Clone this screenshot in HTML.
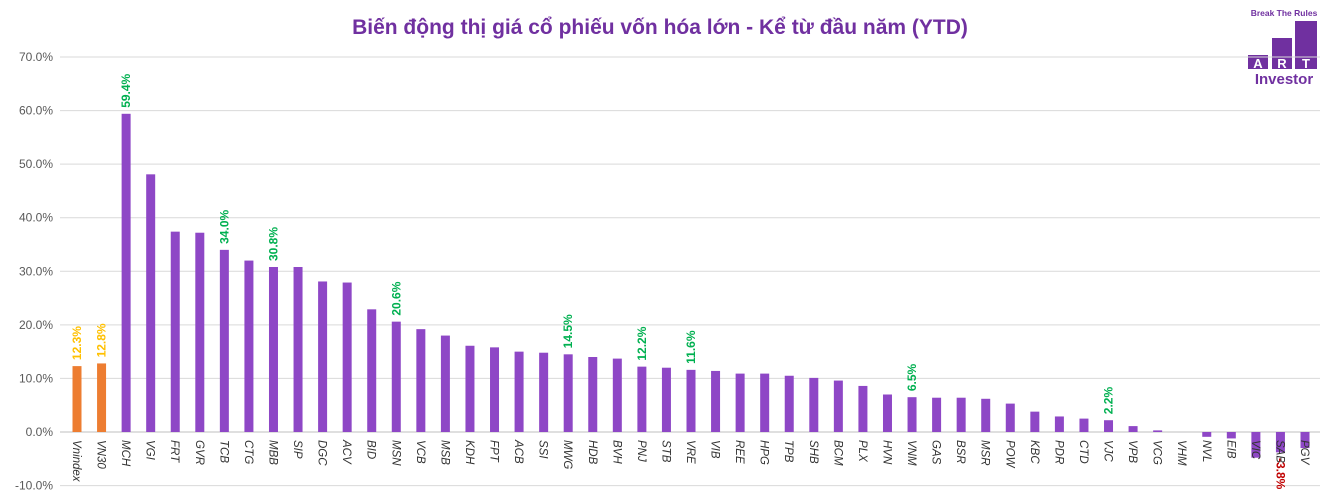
<!DOCTYPE html>
<html><head><meta charset="utf-8"><style>
body{margin:0;background:#fff;width:1336px;height:502px;overflow:hidden;font-family:"Liberation Sans",sans-serif}
</style></head><body>
<svg id="c" width="1336" height="502" style="position:absolute;left:0;top:0">
<text x="660" y="34" text-anchor="middle" font-size="21" font-weight="bold" fill="#7030a0">Biến động thị giá cổ phiếu vốn hóa lớn - Kể từ đầu năm (YTD)</text>
<g>
<text x="1284" y="16" text-anchor="middle" font-size="8.5" font-weight="bold" fill="#7030a0">Break The Rules</text>
<rect x="1295" y="21" width="22" height="48" fill="#7030a0"/>
<rect x="1272" y="38" width="20" height="31" fill="#7030a0"/>
<rect x="1248" y="55" width="20" height="14" fill="#7030a0"/>
<text x="1258" y="68" text-anchor="middle" font-size="13" font-weight="bold" fill="#fff">A</text>
<text x="1282" y="68" text-anchor="middle" font-size="13" font-weight="bold" fill="#fff">R</text>
<text x="1306" y="68" text-anchor="middle" font-size="13" font-weight="bold" fill="#fff">T</text>
<text x="1284" y="84" text-anchor="middle" font-size="15" font-weight="bold" fill="#7030a0">Investor</text>
</g>
</svg>
<script>
const categories=["Vnindex","VN30","MCH","VGI","FRT","GVR","TCB","CTG","MBB","SIP","DGC","ACV","BID","MSN","VCB","MSB","KDH","FPT","ACB","SSI","MWG","HDB","BVH","PNJ","STB","VRE","VIB","REE","HPG","TPB","SHB","BCM","PLX","HVN","VNM","GAS","BSR","MSR","POW","KBC","PDR","CTD","VJC","VPB","VCG","VHM","NVL","EIB","VIC","SAB","PGV"];
const values=[12.3,12.8,59.4,48.1,37.4,37.2,34.0,32.0,30.8,30.8,28.1,27.9,22.9,20.6,19.2,18.0,16.1,15.8,15.0,14.8,14.5,14.0,13.7,12.2,12.0,11.6,11.4,10.9,10.9,10.5,10.1,9.6,8.6,7.0,6.5,6.4,6.4,6.2,5.3,3.8,2.9,2.5,2.2,1.1,0.3,0.0,-0.9,-1.2,-4.8,-3.8,-3.0];
const labeled=["Vnindex","VN30","MCH","TCB","MBB","MSN","MWG","PNJ","VRE","VNM","VJC","SAB"];
const yTicks=[70,60,50,40,30,20,10,0,-10];
const NS="http://www.w3.org/2000/svg";
const svg=document.getElementById('c');
const y=v=>432-v*5.357;
const x=i=>77+i*24.56;
function mk(t,a){const e=document.createElementNS(NS,t);for(const k in a)e.setAttribute(k,a[k]);svg.appendChild(e);return e;}
yTicks.forEach(t=>{
 const g=mk('line',{x1:60,x2:1320,y1:y(t),y2:y(t),stroke:t===0?'#bfbfbf':'#d9d9d9','stroke-width':1});
 
 
 const l=mk('text',{x:53,y:y(t)+4,'text-anchor':'end','font-size':12,fill:'#595959'});
 l.textContent=t.toFixed(1)+'%';
 
 
});
categories.forEach((c,i)=>{
 const v=values[i],cx=x(i);
 const top=Math.min(y(v),y(0)),h=Math.abs(y(v)-y(0));
 const b=mk('rect',{x:cx-4.5,y:top,width:9,height:Math.max(h,0.01),fill:i<2?'#ed7d31':'#8e47c6'});
 
 
 const t=mk('text',{transform:`translate(${cx-4},440) rotate(90)`,'font-size':11.5,'font-style':'italic',fill:'#333'});
 t.textContent=c;
 
 
 if(labeled.includes(c)){
  const col=i<2?'#ffc000':(v<0?'#c00000':'#00b050');
  let lb;
  if(v>=0) lb=mk('text',{transform:`translate(${cx+4},${y(v)-6}) rotate(-90)`,'font-size':12,'font-weight':'bold',fill:col});
  else lb=mk('text',{transform:`translate(${cx-4},${y(0)+26}) rotate(90)`,'font-size':12,'font-weight':'bold',fill:col});
  lb.textContent=v.toFixed(1)+'%';
  
  
 }
});
</script>
</body></html>
